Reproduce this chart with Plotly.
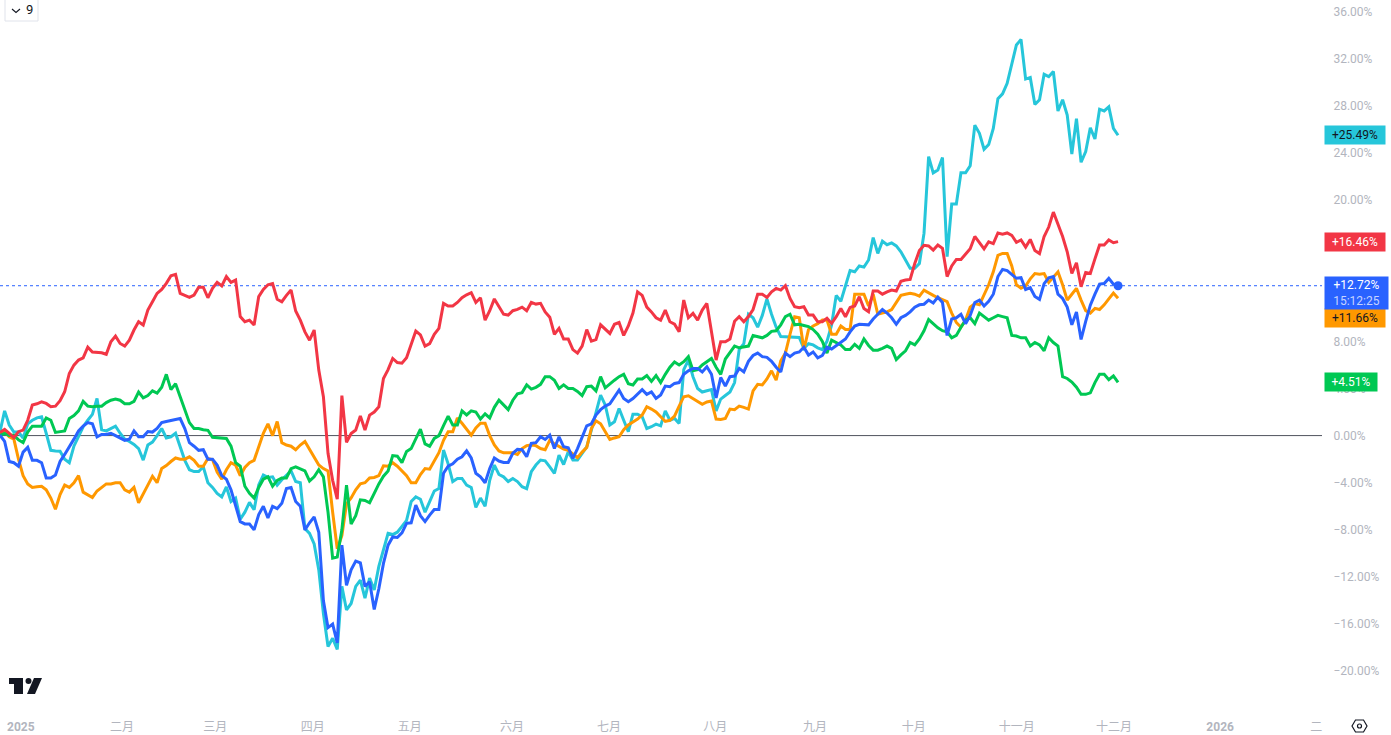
"""
Percent-change comparison of five instruments, Dec 2024 - Dec 2025, one value per weekday.
"""

import plotly.graph_objects as go

FONT = "Roboto, 'Noto Sans CJK SC', sans-serif"
MUTED = "#b2b5be"

RED = [
    0.27, 0.52, 0.18, -0.18, 0.33, 0.47, 1.3, 2.6, 2.7, 2.87,
    2.73, 2.45, 2.5, 2.96, 3.72, 5.27, 5.98, 6.41, 6.6, 7.5,
    7.09, 7.06, 7.03, 6.9, 7.97, 8.44, 7.82, 7.6, 8.1, 8.96,
    9.66, 9.38, 10.65, 11.36, 12.07, 12.41, 12.92, 13.57, 13.68, 12.07,
    11.93, 11.73, 11.93, 12.6, 12.6, 11.7, 12.5, 13.0, 12.7, 13.5,
    13.0, 13.2, 10.1, 9.66, 9.8, 9.38, 11.8, 12.4, 12.8, 12.9,
    11.57, 11.36, 11.9, 12.35, 10.57, 9.8, 8.8, 8.1, 8.96, 5.56,
    3.3, -1.5, -3.8, -5.4, 3.4, -0.58, 0.18, 0.47, 1.66, 0.47,
    1.74, 2.0, 2.45, 4.85, 5.6, 6.55, 6.2, 6.15, 6.6, 7.8,
    8.87, 8.55, 7.6, 7.8, 8.6, 9.1, 11.22, 11.0, 11.0, 11.3,
    11.7, 11.95, 12.13, 11.3, 11.7, 9.8, 10.6, 11.6, 11.0, 10.3,
    10.23, 10.6, 10.71, 10.9, 10.6, 11.3, 11.16, 11.22, 10.5, 10.05,
    8.6, 9.1, 8.2, 8.19, 7.3, 7.0, 7.6, 9.0, 8.02, 8.15,
    9.4, 9.0, 8.67, 9.45, 9.6, 8.5, 9.3, 10.4, 12.2, 11.9,
    10.9, 10.5, 10.0, 9.8, 10.65, 9.66, 9.46, 8.81, 11.5, 10.0,
    10.37, 9.8, 10.65, 11.22, 8.8, 6.41, 7.97, 7.97, 8.2, 9.7,
    10.09, 9.66, 10.1, 10.7, 12.0, 12.0, 11.73, 12.2, 12.49, 12.35,
    12.72, 11.64, 10.94, 10.85, 10.94, 10.23, 10.23, 9.66, 9.66, 9.95,
    9.52, 10.09, 10.79, 10.09, 10.88, 11.0, 11.79, 10.79, 10.51, 12.27,
    12.27, 12.0, 12.2, 12.35, 12.27, 13.1, 13.2, 13.26, 14.6, 15.7,
    16.15, 16.1, 15.75, 16.18, 15.9, 13.5, 14.4, 14.95, 14.95, 15.45,
    15.85, 16.9, 16.35, 15.85, 16.45, 16.3, 17.2, 17.1, 17.2, 17.0,
    16.4, 16.6, 16.0, 16.65, 15.7, 15.45, 16.9, 17.7, 18.97, 17.9,
    16.9, 15.6, 13.76, 14.67, 12.63, 13.85, 13.76, 15.0, 16.17, 16.17,
    16.6, 16.37, 16.46,
]
CYAN = [
    0.33, 2.1, 0.9, 0.3, 0.3, -0.2, 1.0, 1.3, 1.5, 1.6,
    0.2, -1.25, -1.3, -1.32, -2.0, -2.3, -0.9, 0, 0.75, 1.3,
    1.8, 3.16, 0.5, 0.4, 0.6, 0.8, 0.2, -0.3, -0.5, -0.75,
    -1.1, -2.08, -0.8, -0.55, 0, 0.6, -0.2, -0.1, 0.2, -0.9,
    -2.1, -2.9, -3.05, -3.05, -2.65, -4.0, -4.4, -4.9, -5.2, -4.35,
    -5.6, -5.3, -7.1, -6.5, -5.67, -6.3, -4.2, -3.35, -3.55, -3.5,
    -4.2, -3.75, -3.4, -3.0, -3.9, -4.0, -7.9, -8.3, -9.2, -11.4,
    -15.1, -17.9, -17.2, -18.15, -12.8, -14.8, -14.25, -12.8, -12.26, -13.8,
    -12.1, -13.1, -11.1, -9.7, -8.3, -8.4, -8.2, -7.7, -7.2, -5.6,
    -5.2, -5.4, -6.5, -5.6, -4.7, -4.5, -1.23, -2.4, -3.9, -3.64,
    -3.64, -4.2, -4.4, -6.1, -5.3, -6.0, -3.8, -2.5, -3.3, -3.5,
    -3.9, -3.64, -3.9, -4.34, -4.5, -3.07, -2.5, -2.08, -2.14, -2.65,
    -3.2, -1.66, -2.45, -1.37, -2.08, -2.08, -1.5, -0.95, 0.47, 2.0,
    3.44, 2.6, 0.9, 1.17, 2.3, 1.3, 0.33, 1.82, 1.82, 1.6,
    0.6, 0.75, 0.97, 0.83, 2.1, 1.3, 1.46, 1.03, 5.6, 6.4,
    5.0, 4.0, 3.7, 3.8, 3.9, 2.1, 3.1, 3.4, 3.7, 4.5,
    7.3, 7.8, 10.3, 10.0, 9.2, 10.2, 11.6, 10.3, 9.2, 8.4,
    8.39, 8.39, 8.36, 8.33, 7.4, 7.8, 7.7, 7.45, 7.3, 8.0,
    9.4, 11.9, 11.4, 12.8, 14.0, 13.9, 14.4, 14.3, 14.9, 16.8,
    15.46, 16.5, 16.2, 16.35, 16.1, 15.6, 14.9, 14.2, 14.2, 14.6,
    17.16, 23.67, 22.3, 22.54, 23.6, 15.18, 19.65, 19.65, 22.3, 22.3,
    22.9, 26.35, 25.65, 24.3, 24.7, 26.07, 28.6, 29.0, 29.9, 31.45,
    33.15, 33.63, 30.26, 30.4, 28.1, 28.5, 30.66, 30.46, 30.9, 27.55,
    28.5, 27.2, 23.9, 26.9, 23.2, 24.1, 26.13, 25.17, 27.7, 27.55,
    27.9, 26.07, 25.49,
]
BLUE = [
    0.04, -0.5, -2.2, -2.3, -2.6, -1.4, -1.0, -2.1, -2.1, -2.3,
    -3.6, -3.6, -3.35, -2.2, -1.6, -1.0, -0.3, 0.4, 0.8, 1.1,
    1.0, -0.1, 0.1, 0.1, 0.2, 0, -0.2, -0.4, -0.3, 0.4,
    -0.1, -0.1, 0.35, 0.3, 0.6, 1.1, 1.2, 1.3, 1.35, 1.45,
    0.6, -0.6, -0.9, -1.25, -1.2, -2.0, -2.0, -2.5, -3.4, -3.7,
    -4.6, -6.0, -7.3, -7.5, -7.5, -8.0, -6.7, -6.0, -7.0, -6.0,
    -6.2, -5.75, -4.5, -4.4, -5.6, -6.0, -8.0, -7.4, -6.9, -8.2,
    -14.0, -16.3, -16.0, -17.6, -9.3, -12.7, -11.4, -10.65, -10.8, -12.8,
    -12.4, -14.75, -13.0, -10.85, -9.3, -8.6, -8.65, -8.25, -7.45, -7.4,
    -5.9, -6.8, -7.3, -6.75, -6.27, -6.27, -3.2, -2.6, -2.4, -2.0,
    -1.8, -1.3, -1.9, -3.2, -3.5, -4.0, -2.8, -1.9, -2.16, -2.28,
    -2.28, -1.5, -1.17, -1.2, -1.8, -0.66, -0.6, -0.1, -0.33, 0.04,
    -1.1, -0.1, -0.95, -1.03, -1.94, -1.1, -0.1, 0.83, 1.0, 1.74,
    2.2, 2.5, 2.7, 3.3, 3.86, 3.15, 2.87, 3.15, 3.5, 3.9,
    3.5, 3.7, 3.15, 3.44, 4.2, 4.15, 4.43, 4.5, 5.2, 5.5,
    5.7, 5.7, 5.4, 5.84, 5.2, 3.2, 4.93, 4.2, 5.0, 5.05,
    5.7, 5.4, 6.3, 6.8, 7.0, 6.7, 6.64, 6.3, 5.8, 5.4,
    7.0, 6.7, 7.0, 7.1, 7.5, 6.83, 7.1, 6.6, 6.8, 7.5,
    7.35, 7.65, 7.95, 8.2, 8.8, 9.3, 9.45, 9.4, 9.4, 9.9,
    10.3, 10.7, 10.4, 10.0, 9.45, 10.0, 10.2, 10.5, 10.9, 11.1,
    11.15, 11.5, 11.25, 11.75, 11.3, 8.5, 9.9, 10.0, 10.3, 9.5,
    10.2, 11.3, 11.5, 11.0, 11.4, 12.0, 13.5, 14.1, 14.0, 13.7,
    13.35, 13.4, 12.4, 12.55, 11.8, 11.56, 12.9, 13.4, 13.5, 12.0,
    11.64, 10.9, 9.4, 10.5, 8.16, 9.7, 11.07, 12.0, 12.86, 12.9,
    13.34, 12.85, 12.72,
]
ORANGE = [
    0.18, 0.3, -0.1, -0.3, -2.0, -3.4, -4.1, -4.4, -4.35, -4.3,
    -4.6, -5.3, -6.25, -5.0, -4.2, -4.4, -4.0, -3.4, -4.8, -5.0,
    -5.25, -4.7, -4.4, -4.1, -4.1, -4.0, -4.0, -4.6, -4.8, -4.4,
    -5.7, -4.9, -4.2, -3.45, -4.0, -2.8, -2.55, -2.2, -1.9, -2.0,
    -2.0, -1.8, -2.1, -2.6, -2.6, -1.95, -2.05, -3.1, -3.7, -2.9,
    -2.3, -2.5, -3.4, -2.7, -2.3, -2.1, -1.0, 0.2, 1.0, 0,
    1.2, -0.6, -0.8, -0.9, -1.2, -0.8, -0.5, -1.2, -1.9, -2.5,
    -2.8, -3.0, -6.5, -9.6, -8.5, -5.8, -5.3, -4.6, -4.1, -4.0,
    -3.6, -3.55, -3.4, -2.56, -2.6, -2.3, -2.6, -3.0, -3.4, -4.0,
    -4.0, -3.3, -2.8, -2.85, -2.2, -1.45, -0.4, 0.33, 0.33, 1.5,
    1.05, 0.55, 0.04, 0.65, 1.05, 1.05, 0, -0.8, -1.3, -1.46,
    -1.46, -1.46, -1.6, -1.1, -0.85, -0.8, -0.85, -1.1, -1.2, -0.4,
    -0.7, -0.95, -1.15, -1.25, -1.6, -1.88, -1.4, -1.0, 0.6, 1.26,
    1.0, 0.3, -0.33, -0.2, -0.1, 0.5, 0.9, 1.15, 1.4, 1.75,
    2.45, 2.25, 2.0, 1.6, 1.2, 1.3, 1.65, 2.5, 3.3, 3.38,
    3.15, 2.9, 2.65, 2.85, 2.93, 1.4, 1.37, 1.46, 2.25, 2.2,
    2.5, 2.4, 2.25, 3.8, 4.35, 4.3, 4.8, 5.5, 4.7, 6.35,
    7.0, 8.6, 10.09, 10.0, 7.3, 9.0, 9.3, 9.5, 9.8, 9.8,
    8.6, 8.6, 9.3, 9.0, 9.0, 12.0, 12.0, 12.0, 11.0, 12.0,
    10.3, 10.4, 10.5, 10.7, 11.3, 11.9, 12.0, 12.07, 12.0, 11.84,
    12.35, 12.1, 11.9, 11.7, 11.5, 11.36, 10.4, 9.6, 9.2, 9.8,
    10.9, 11.2, 11.1, 11.9, 12.8, 13.9, 15.3, 15.46, 15.46, 14.4,
    12.8, 12.5, 12.7, 13.3, 13.75, 13.7, 13.75, 13.0, 13.5, 13.9,
    12.8, 11.5, 12.0, 12.5, 11.5, 10.6, 10.4, 10.8, 10.7, 11.1,
    11.6, 12.1, 11.66,
]
GREEN = [
    0.04, 0.18, 0, 0.04, -0.35, -0.6, 0.3, 0.8, 0.8, 0.8,
    1.5, 1.3, 0.27, 0.35, 0.4, 1.45, 1.7, 2.1, 2.9, 2.5,
    2.45, 2.5, 2.5, 2.8, 3.0, 3.1, 3.0, 2.7, 2.7, 2.9,
    3.7, 3.2, 3.4, 3.8, 3.6, 4.1, 5.2, 3.9, 4.4, 3.3,
    2.2, 1.1, 0.6, 0.6, 0.5, 0.45, -0.15, -0.2, -0.2, -0.25,
    -0.9, -2.3, -2.6, -4.3, -4.9, -5.3, -4.4, -3.7, -3.5, -4.3,
    -3.8, -3.6, -3.6, -2.8, -2.65, -2.8, -3.0, -3.85, -3.5, -2.9,
    -3.5, -6.5, -10.4, -10.3, -8.0, -4.2, -7.5, -6.8, -5.45, -5.5,
    -5.7, -4.9, -4.1, -3.45, -3.0, -1.7, -1.75, -2.3, -1.35, -1.1,
    -0.2, 0.55, -0.7, -0.9, -0.24, 0, 0.85, 1.65, 0.9, 0.9,
    2.1, 1.75, 2.1, 2.0, 1.4, 1.85, 1.5, 2.4, 3.0, 2.6,
    2.2, 3.0, 3.55, 3.65, 4.3, 3.95, 4.1, 4.35, 5.0, 5.0,
    4.7, 4.0, 4.3, 4.0, 4.0, 3.75, 3.4, 4.15, 4.2, 3.8,
    5.0, 4.05, 4.4, 4.7, 5.0, 5.2, 4.4, 4.3, 4.8, 4.8,
    5.1, 4.6, 5.1, 4.5, 5.2, 5.8, 6.25, 6.0, 6.27, 6.7,
    5.5, 5.6, 6.0, 6.3, 6.55, 5.8, 5.2, 6.5, 7.0, 7.6,
    7.45, 7.5, 7.6, 8.5, 8.4, 8.3, 8.5, 8.85, 8.9, 9.4,
    10.1, 10.3, 9.4, 9.45, 9.35, 9.25, 9.0, 8.6, 8.0, 7.0,
    8.1, 7.9, 7.7, 7.3, 7.3, 7.75, 7.4, 8.2, 7.65, 7.25,
    7.25, 7.4, 7.6, 7.4, 6.45, 6.85, 7.2, 7.9, 7.7, 8.2,
    8.9, 9.85, 9.5, 9.15, 8.9, 8.8, 8.3, 8.5, 9.2, 9.8,
    10.0, 9.5, 10.4, 10.1, 9.8, 10.0, 10.2, 10.1, 10.0, 8.5,
    8.45, 8.3, 8.3, 7.6, 7.9, 7.7, 7.2, 8.3, 7.9, 7.6,
    5.0, 4.85, 4.55, 4.1, 3.5, 3.5, 3.63, 4.5, 5.2, 5.2,
    4.75, 5.07, 4.51,
]

MONTH_TICKS = [4.5, 26.4, 46.6, 67.7, 88.7, 110.8, 131.8, 154.8, 176.4, 197.8, 220.1, 241.1, 264.1, 284.9]
MONTH_LABELS = ["<b>2025</b>", "二月", "三月", "四月", "五月", "六月", "七月", "八月", "九月", "十月",
                "十一月", "十二月", "<b>2026</b>", "二"]
PCT_TICKS = list(range(-20, 40, 4))

# plot area in page pixels, used only for the furniture drawn in paper coordinates
PLOT_W = 1322
PLOT_H = 710


def px(x):
    return x / PLOT_W


def py(y):
    return 1 - y / PLOT_H


def pct_label(v):
    return f"{v:.2f}%".replace("-", "\u2212")


def poly(points):
    return "M" + " L".join(f"{px(x)},{py(y)}" for x, y in points) + " Z"


fig = go.Figure()

series = [
    ("cyan", CYAN, "#26c6da"),
    ("orange", ORANGE, "#ff9800"),
    ("green", GREEN, "#00c853"),
    ("red", RED, "#f23645"),
    ("blue", BLUE, "#2962ff"),
]
for name, values, color in series:
    fig.add_trace(go.Scatter(
        x=list(range(len(values))), y=values, name=name, mode="lines",
        line=dict(color=color, width=3), showlegend=False, hoverinfo="skip",
    ))

# last price dot on the main series
fig.add_trace(go.Scatter(
    x=[len(BLUE) - 1], y=[BLUE[-1]], mode="markers",
    marker=dict(color="#2962ff", size=9), showlegend=False, hoverinfo="skip",
))

fig.add_hline(y=0, line=dict(color="#50535e", width=1), layer="below")
fig.add_hline(y=BLUE[-1], line=dict(color="#2962ff", width=1, dash="dot"), layer="below")

# TradingView mark, settings hexagon, collapse button
shapes = [
    dict(type="path", path=poly([(9, 678), (23, 678), (23, 694), (14, 694), (14, 684), (9, 684)]),
         fillcolor="#131722", line_width=0),
    dict(type="path", path=poly([(42, 678), (35, 694), (27, 694), (34, 678)]),
         fillcolor="#131722", line_width=0),
    dict(type="circle", x0=px(25.5), x1=px(31.5), y0=py(684), y1=py(678),
         fillcolor="#131722", line_width=0),
    dict(type="path", path=poly([(1352, 726), (1355.5, 720), (1363.5, 720), (1367, 726), (1363.5, 732), (1355.5, 732)]),
         line=dict(color="#131722", width=1.2)),
    dict(type="circle", x0=px(1357.5), x1=px(1361.5), y0=py(728), y1=py(724),
         line=dict(color="#131722", width=1.2)),
    dict(type="path", path=f"M{px(12)},{py(9)} L{px(16)},{py(12.5)} L{px(20)},{py(9)}",
         line=dict(color="#131722", width=1.1)),
    dict(type="path", path=poly([(5, -1), (38, -1), (38, 21), (5, 21)]),
         line=dict(color="#e0e3eb", width=1)),
]
for s in shapes:
    s.update(xref="paper", yref="paper")
    fig.add_shape(**s)

fig.add_annotation(xref="paper", yref="paper", x=px(29), y=py(10), text="9", showarrow=False,
                   xanchor="center", yanchor="middle",
                   font=dict(family=FONT, size=13, color="#131722"))

# value, text, fill, ink, width, vertical shift for the tag pushed down by the blue one
tags = [
    (CYAN[-1], "+25.49%", "#26c6da", "#131722", 60, 0),
    (RED[-1], "+16.46%", "#f23645", "#ffffff", 60, 0),
    (GREEN[-1], "+4.51%", "#00c853", "#ffffff", 52, 0),
    (ORANGE[-1], "+11.66%", "#ff9800", "#131722", 60, -20),
]
for value, text, bg, fg, width, shift in tags:
    fig.add_annotation(
        xref="paper", yref="y", x=px(1324), y=value, xanchor="left", yanchor="middle",
        text=text, showarrow=False, bgcolor=bg, width=width, height=18, borderpad=0,
        yshift=shift, font=dict(family=FONT, size=12, color=fg),
    )
fig.add_annotation(
    xref="paper", yref="y", x=px(1324), y=BLUE[-1], xanchor="left", yanchor="top", yshift=10,
    text="+12.72%<br><span style='color:#c5d3ff'>15:12:25</span>", showarrow=False,
    bgcolor="#2962ff", width=63, height=32, borderpad=0,
    font=dict(family=FONT, size=12, color="#ffffff"),
)

fig.update_layout(
    width=1391, height=735,
    margin=dict(l=0, r=1391 - PLOT_W, t=0, b=735 - PLOT_H),
    paper_bgcolor="#ffffff", plot_bgcolor="#ffffff",
    hovermode=False,
    font=dict(family=FONT, size=12, color=MUTED),
    xaxis=dict(
        range=[0, PLOT_W / 4.62], showgrid=False, zeroline=False, showline=False,
        tickmode="array", tickvals=MONTH_TICKS, ticktext=MONTH_LABELS,
        ticks="outside", ticklen=6, tickcolor="rgba(0,0,0,0)",
        tickfont=dict(family=FONT, size=12, color=MUTED), ticklabeloverflow="allow",
    ),
    yaxis=dict(
        side="right", range=[-23.29, 36.97], showgrid=False, zeroline=False, showline=False,
        tickmode="array", tickvals=PCT_TICKS, ticktext=[pct_label(v) for v in PCT_TICKS],
        ticks="outside", ticklen=8, tickcolor="rgba(0,0,0,0)",
        tickfont=dict(family=FONT, size=12, color=MUTED),
    ),
)

# the page's default body margin would push the 1391x735 figure off the window
fig.write_html("out.html", config={"displayModeBar": False},
               post_script="document.body.style.margin='0';")
